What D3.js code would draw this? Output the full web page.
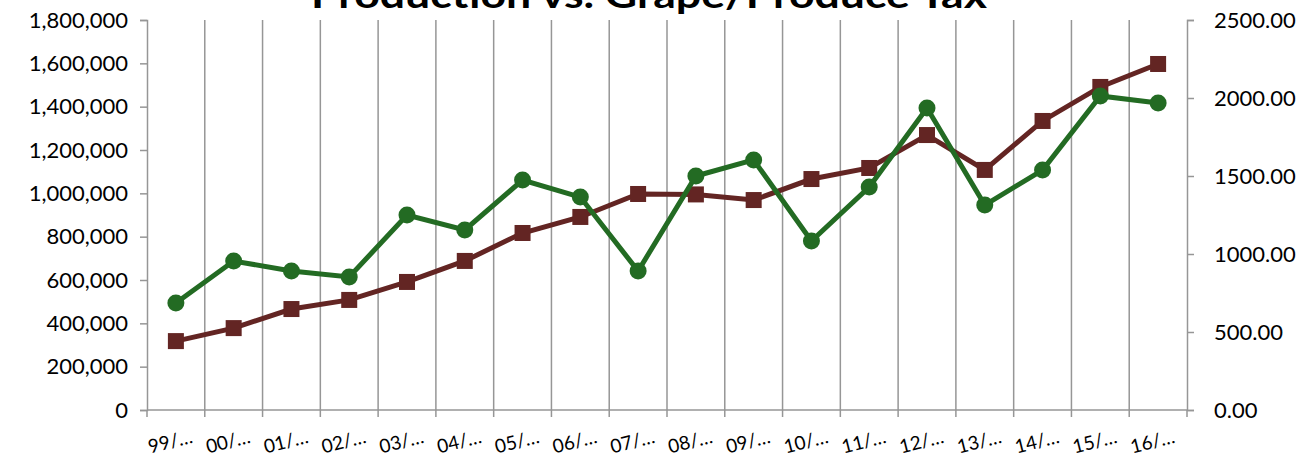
<!DOCTYPE html>
<html>
<head>
<meta charset="utf-8">
<script src="https://cdn.jsdelivr.net/npm/d3@7"></script>
<style>
  body { margin: 0; background: white; }
  svg { display: block; }
</style>
</head>
<body>
<div id="container"></div>
<script>
/* CONSTANTS AND DATA */
const width = 1308,
  height = 456,
  margin = { top: 20, right: 121, bottom: 46, left: 147 };

const years = ["99/…", "00/…", "01/…", "02/…", "03/…", "04/…", "05/…", "06/…", "07/…",
  "08/…", "09/…", "10/…", "11/…", "12/…", "13/…", "14/…", "15/…", "16/…"];

const production = [318000, 378000, 466000, 508000, 591000, 688000, 817000, 891000, 997000,
  995000, 969000, 1066000, 1117000, 1269000, 1108000, 1334000, 1491000, 1597000];

const tax = [686, 955, 891, 853, 1250, 1154, 1474, 1365, 891,
  1500, 1603, 1083, 1429, 1936, 1314, 1538, 2013, 1968];

const leftTicks = d3.range(0, 1800001, 200000);
const rightTicks = d3.range(0, 2501, 500);

const brown = "#632523",
  green = "#236b23",
  gridColor = "#969696",
  font = "Lato, 'Open Sans', sans-serif";

const svg = d3.select("#container")
  .append("svg")
  .attr("width", width)
  .attr("height", height)
  .style("background-color", "white");

/* SCALES */
const xScale = d3.scaleBand()
  .domain(years)
  .range([margin.left, width - margin.right]);

const yLeft = d3.scaleLinear()
  .domain([0, 1800000])
  .range([height - margin.bottom, margin.top]);

const yRight = d3.scaleLinear()
  .domain([0, 2500])
  .range([height - margin.bottom, margin.top]);

/* GRIDLINES (category boundaries) */
const boundaries = years.map(d => xScale(d)).concat([xScale.range()[1]]);
svg.append("g")
  .selectAll("line")
  .data(boundaries.slice(1, -1))
  .join("line")
  .attr("x1", d => d).attr("x2", d => d)
  .attr("y1", margin.top).attr("y2", height - margin.bottom)
  .attr("stroke", gridColor)
  .attr("stroke-width", 1.5);

/* AXES */
const leftAxis = d3.axisLeft(yLeft)
  .tickValues(leftTicks)
  .tickFormat(d3.format(","))
  .tickSize(7)
  .tickPadding(12);

const gl = svg.append("g")
  .attr("transform", `translate(${margin.left}, 0)`)
  .call(leftAxis);

const rightAxis = d3.axisRight(yRight)
  .tickValues(rightTicks)
  .tickFormat(d3.format(".2f"))
  .tickSize(7)
  .tickPadding(20);

const gr = svg.append("g")
  .attr("transform", `translate(${width - margin.right}, 0)`)
  .call(rightAxis);

// bottom axis: line plus ticks at boundaries
const gb = svg.append("g");
gb.append("line")
  .attr("x1", margin.left).attr("x2", width - margin.right)
  .attr("y1", yLeft(0)).attr("y2", yLeft(0))
  .attr("stroke", gridColor).attr("stroke-width", 1.5);
gb.selectAll(".btick")
  .data(boundaries)
  .join("line")
  .attr("class", "btick")
  .attr("x1", d => d).attr("x2", d => d)
  .attr("y1", yLeft(0)).attr("y2", yLeft(0) + 7)
  .attr("stroke", gridColor).attr("stroke-width", 1.5);

gb.selectAll(".xlabel")
  .data(years)
  .join("text")
  .attr("class", "xlabel")
  .attr("transform", d => `translate(${xScale(d) + xScale.bandwidth() / 2 - 4}, ${yLeft(0) + 38}) rotate(-14)`)
  .attr("text-anchor", "middle")
  .style("font-family", font)
  .style("font-size", "19px")
  .attr("fill", "#000")
  .text(d => d);

[gl, gr].forEach(g => {
  g.select(".domain").attr("stroke", gridColor).attr("stroke-width", 1.5);
  g.selectAll(".tick line").attr("stroke", gridColor).attr("stroke-width", 1.5);
  g.selectAll(".tick text")
    .style("font-family", font)
    .style("font-size", "22px")
    .attr("fill", "#000");
});

/* LINES */
const cx = d => xScale(d) + xScale.bandwidth() / 2;

const prodLine = d3.line()
  .x((d, i) => cx(years[i]))
  .y(d => yLeft(d));

const taxLine = d3.line()
  .x((d, i) => cx(years[i]))
  .y(d => yRight(d));

svg.append("path")
  .datum(production)
  .attr("d", prodLine)
  .attr("fill", "none")
  .attr("stroke", brown)
  .attr("stroke-width", 5);

svg.selectAll(".sq")
  .data(production)
  .join("rect")
  .attr("class", "sq")
  .attr("x", (d, i) => cx(years[i]) - 8)
  .attr("y", d => yLeft(d) - 8)
  .attr("width", 16)
  .attr("height", 16)
  .attr("fill", brown);

svg.append("path")
  .datum(tax)
  .attr("d", taxLine)
  .attr("fill", "none")
  .attr("stroke", green)
  .attr("stroke-width", 5);

svg.selectAll(".dot")
  .data(tax)
  .join("circle")
  .attr("class", "dot")
  .attr("cx", (d, i) => cx(years[i]))
  .attr("cy", d => yRight(d))
  .attr("r", 8.5)
  .attr("fill", green);

/* TITLE (cut off at top, as in the source) */
svg.append("text")
  .attr("x", 649)
  .attr("y", 8)
  .attr("text-anchor", "middle")
  .style("font-family", font)
  .style("font-weight", "bold")
  .style("font-size", "36px")
  .attr("textLength", 676)
  .attr("lengthAdjust", "spacingAndGlyphs")
  .text("Production vs. Grape/Produce Tax");
</script>
</body>
</html>
